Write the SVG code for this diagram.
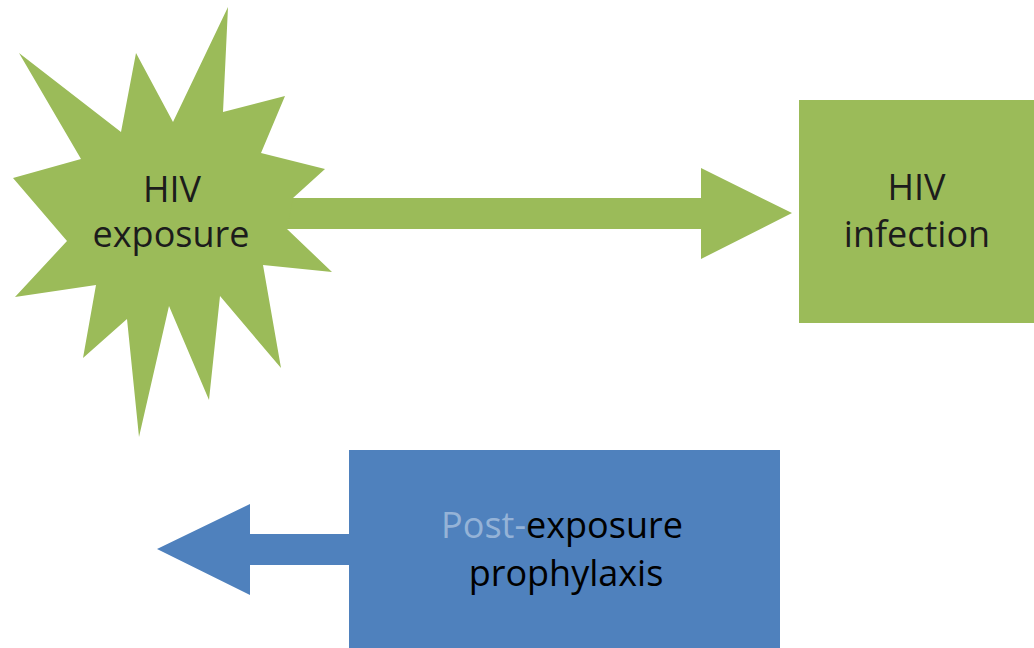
<svg xmlns="http://www.w3.org/2000/svg" width="1034" height="648" viewBox="0 0 1034 648">
<style>
.g{fill:#9BBB59}
.b{fill:#4F81BD}
.t{font-family:"Open Sans","Noto Sans",sans-serif;font-size:36px;fill:#1c1c1c;text-anchor:middle}
.lt{fill:#95B3D7}
.k{fill:#000}
</style>
<rect width="1034" height="648" fill="#fff"/>
<g id="connectors">
<polygon class="g" points="280,198 701,198 701,168 792,213 701,259 701,229 280,229"/>
<polygon class="b" points="352,534 250,534 250,504 157,549 250,595 250,565 352,565"/>
</g>
<g id="hiv-exposure">
<polygon class="g" points="228,7 223,112 285,96 261,153 325,169 293,198 287,229 332,272 263,265 281,368 220,296 209,400 169,306 139,437 127,319 83,358 96,285 15,297 67,241 13,178 81,159 19,53 121,132 136,53 173,122"/>
<text class="t" x="172" y="201.5">HIV</text>
<text class="t" x="171" y="246.5">exposure</text>
</g>
<g id="hiv-infection">
<rect class="g" x="799" y="100" width="235" height="223"/>
<text class="t" x="916.5" y="200">HIV</text>
<text class="t" x="917" y="246.5">infection</text>
</g>
<g id="pep">
<rect class="b" x="349" y="450" width="431" height="198"/>
<text class="t" x="562" y="538"><tspan class="lt">Post-</tspan><tspan class="k">exposure</tspan></text>
<text class="t k" x="566" y="586">prophylaxis</text>
</g>
</svg>
